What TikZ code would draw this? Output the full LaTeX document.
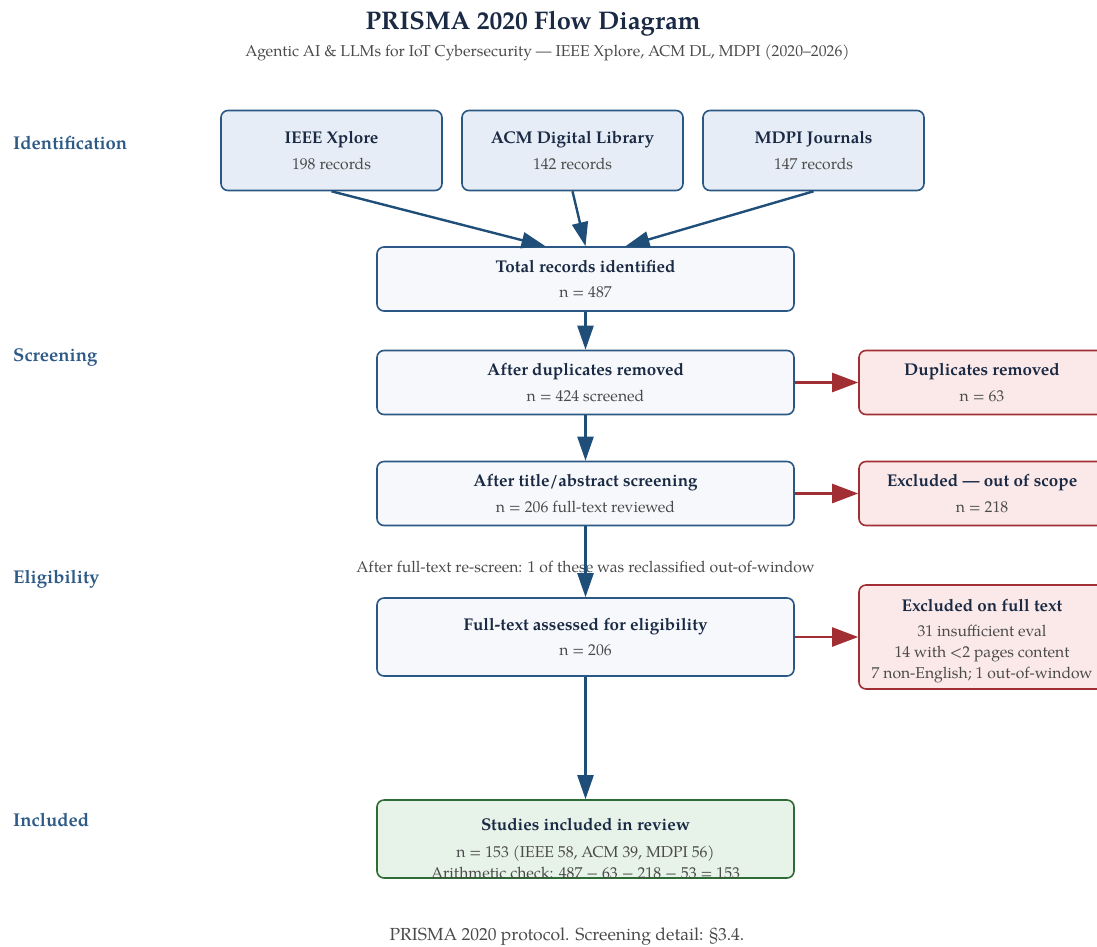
\documentclass[tikz,border=0pt]{standalone}
\usepackage{fontspec}
\setmainfont{TeX Gyre Pagella}
\usetikzlibrary{arrows.meta,positioning}
\definecolor{navytext}{HTML}{1A2A44}
\definecolor{greytext}{HTML}{4A4A4A}
\definecolor{stageblue}{HTML}{2E5A87}
\definecolor{boxblue}{HTML}{2A5783}
\definecolor{arrowblue}{HTML}{1F4E79}
\definecolor{sourcefill}{HTML}{E6EDF6}
\definecolor{flowfill}{HTML}{F6F8FB}
\definecolor{exclred}{HTML}{A12E33}
\definecolor{exclfill}{HTML}{FBE9E9}
\definecolor{inclgreen}{HTML}{2F6B34}
\definecolor{inclfill}{HTML}{E7F2E8}
\newcommand{\boxhead}[1]{{\fontsize{17}{20}\selectfont\bfseries #1}}
\newcommand{\boxcount}[1]{\textcolor{greytext}{#1}}
\begin{document}
\begin{tikzpicture}
[x=1pt,y=-1pt,
  flowdecorate/.style={draw=boxblue,line width=1.6pt,rounded corners=7pt,fill=flowfill,
    minimum width=417pt,minimum height=64pt,inner sep=0pt,align=center,text=navytext,
    font=\fontsize{15.7}{25.5}\selectfont},
  sourcedecorate/.style={flowdecorate,fill=sourcefill,minimum width=221pt,minimum height=80pt},
  excludedecorate/.style={flowdecorate,draw=exclred,fill=exclfill,minimum width=246pt},
  includedecorate/.style={flowdecorate,draw=inclgreen,fill=inclfill,minimum height=78pt},
  textdecorate/.style={text=navytext,align=center,font=\fontsize{15.7}{21}\selectfont},
  stagedecorate/.style={anchor=west,inner sep=0pt,text=stageblue,font=\fontsize{18.5}{22}\selectfont\bfseries},
  notedecorate/.style={text=greytext,font=\fontsize{15.7}{18}\selectfont},
  arrowdecorate/.style={-{Triangle[length=24pt,width=16pt]},line width=2.4pt,draw=arrowblue},
  redarrowdecorate/.style={arrowdecorate,-{Triangle[length=26pt,width=19pt]},draw=exclred}]
\clip (0,0) rectangle (1097,946);
%% heading
\node (title) at (533,24) [text=navytext,font=\fontsize{25.5}{30}\selectfont\bfseries]
  {PRISMA 2020 Flow Diagram};
\node (subtitle) at (547.5,53) [notedecorate] {Agentic AI \& LLMs for IoT Cybersecurity — IEEE Xplore, ACM DL, MDPI (2020–2026)};
%% stages
\foreach \stagename/\y in {Identification/143, Screening/358, Eligibility/579, Included/820}
{
  \node (stage\stagename) at (13,\y) [stagedecorate] {\stagename};
}
%% nodes or boxes
\foreach \nodename/\x/\source/\count in {ieee/331.5/IEEE Xplore/198,
  acm/572.5/ACM Digital Library/142, mdpi/813.5/MDPI Journals/147}
{
  \node (\nodename) at (\x,150.5) [sourcedecorate]
    {\boxhead{\source}\\\boxcount{\count{} records}};
}
\node (total) at (585.5,279) [flowdecorate]
  {\boxhead{Total records identified}\\\boxcount{n = 487}};
\node (dedup) at (585.5,382.5) [flowdecorate]
  {\boxhead{After duplicates removed}\\\boxcount{n = 424 screened}};
\node (screen) at (585.5,493.5) [flowdecorate]
  {\boxhead{After title/abstract screening}\\\boxcount{n = 206 full-text reviewed}};
\node (note) at (585.5,567) [notedecorate]
  {After full-text re-screen: 1 of these was reclassified out-of-window};
\node (full) at (585.5,637) [flowdecorate,minimum height=78pt]
  {\boxhead{Full-text assessed for eligibility}\\\boxcount{n = 206}};
\node (incl) at (585.5,839) [includedecorate] {};
\node (incltext) at ([yshift=-10pt]incl.center) [textdecorate]
  {\boxhead{Studies included in review}\\[6pt]\boxcount{n = 153 (IEEE 58, ACM 39, MDPI 56)}\\
   \boxcount{Arithmetic check: 487 − 63 − 218 − 53 = 153}};
\node (dup) at (982,382.5) [excludedecorate]
  {\boxhead{Duplicates removed}\\\boxcount{n = 63}};
\node (excl) at (982,493.5) [excludedecorate]
  {\boxhead{Excluded — out of scope}\\\boxcount{n = 218}};
\node (exfull) at (982,637) [excludedecorate,minimum height=104pt] {};
\node (exfulltext) at ([yshift=-4pt]exfull.center) [textdecorate]
  {\boxhead{Excluded on full text}\\[4pt]\boxcount{31 insufficient eval}\\
   \boxcount{14 with <2 pages content}\\\boxcount{7 non-English; 1 out-of-window}};
\node (footer) at (567,937) [notedecorate,font=\fontsize{17.5}{20}\selectfont] {PRISMA 2020 protocol. Screening detail: §3.4.};
%% edges or arrows
\path
\foreach \startnode/\shift in {ieee/-40, acm/0, mdpi/40} {
  (\startnode.south) edge[arrowdecorate] ([xshift=\shift pt]total.north)
}
\foreach \startnode/\endnode in {total/dedup, dedup/screen, screen/full, full/incl} {
  (\startnode) edge[arrowdecorate] (\endnode)
}
\foreach \startnode/\endnode in {dedup/dup, screen/excl, full/exfull} {
  (\startnode) edge[redarrowdecorate] (\endnode)
};
\end{tikzpicture}
\end{document}
